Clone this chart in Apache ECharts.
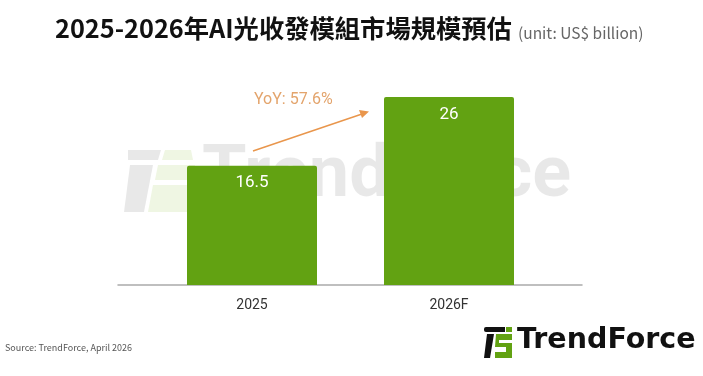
<!DOCTYPE html>
<html>
<head>
<meta charset="utf-8">
<script src="https://cdn.jsdelivr.net/npm/echarts@6/dist/echarts.min.js"></script>
<style>
  html, body { margin: 0; padding: 0; background: #fff; }
  #chart { width: 703px; height: 376px; }
</style>
</head>
<body>
<div id="chart"></div>
<script>
// 数据
const years = ['2025', '2026F'];
const marketSize = [16.5, 26];
const yoyText = 'YoY: 57.6%';

const GREEN = '#62a212';
const ORANGE = '#e9964c';

const chart = echarts.init(document.getElementById('chart'));

const option = {
    animation: false,
    title: [
        {
            text: '2025-2026年AI光收發模組市場規模預估',
            left: 55, top: 16, padding: 0,
            textStyle: { fontFamily: 'Noto Sans CJK TC', fontSize: 25.3, fontWeight: 'bold', color: '#111' }
        },
        {
            text: '(unit: US$ billion)',
            left: 518, top: 25, padding: 0,
            textStyle: { fontFamily: 'Noto Sans CJK TC', fontSize: 15.5, fontWeight: 'normal', color: '#666' }
        },
        {
            text: 'Source: TrendForce, April 2026',
            left: 5, top: 343, padding: 0,
            textStyle: { fontFamily: 'Noto Sans CJK TC', fontSize: 9, fontWeight: 'normal', color: '#555' }
        }
    ],
    grid: [
        { left: 153.5, right: 155.5, top: 68, bottom: 91 },
        { left: 118, right: 121, top: 68, bottom: 91 }
    ],
    xAxis: [
        {
            type: 'category', gridIndex: 0, data: years,
            axisLine: { show: false },
            axisTick: { show: false },
            axisLabel: { fontFamily: 'Roboto', fontSize: 14, color: '#333', margin: 13 }
        },
        {
            type: 'category', gridIndex: 1, data: [''],
            axisLine: { show: true, lineStyle: { color: '#aaa', width: 1.5 } },
            axisTick: { show: false },
            axisLabel: { show: false }
        }
    ],
    yAxis: [
        { type: 'value', gridIndex: 0, min: 0, max: 30, show: false },
        { type: 'value', gridIndex: 1, min: 0, max: 30, show: false }
    ],
    series: [
        {
            type: 'bar',
            xAxisIndex: 0, yAxisIndex: 0,
            data: marketSize,
            barWidth: 130,
            itemStyle: { color: GREEN, borderRadius: [2, 2, 0, 0] },
            label: {
                show: true, position: 'insideTop', distance: 9,
                fontFamily: 'Roboto', fontSize: 17, color: '#fff'
            }
        }
    ],
    graphic: [
        // 背景水印 TrendForce
        {
            type: 'group', z: 100, silent: true,
            children: [
                { type: 'polygon', shape: { points: [[128, 150], [161, 150], [158, 160], [128, 160]] }, style: { fill: 'rgba(0,0,0,0.09)' } },
                { type: 'polygon', shape: { points: [[165, 150], [191, 150], [193, 160], [162, 160]] }, style: { fill: 'rgba(140,190,60,0.14)' } },
                { type: 'polygon', shape: { points: [[130, 165], [153, 165], [144, 212], [124, 212]] }, style: { fill: 'rgba(0,0,0,0.09)' } },
                { type: 'polygon', shape: { points: [[158, 165], [195, 165], [193, 180], [155, 180]] }, style: { fill: 'rgba(140,190,60,0.14)' } },
                { type: 'polygon', shape: { points: [[153, 185], [192, 185], [190, 212], [148, 212]] }, style: { fill: 'rgba(140,190,60,0.14)' } },
                {
                    type: 'text', left: 202, top: 142,
                    style: { text: 'TrendForce', font: 'bold 72px Roboto', fill: 'rgba(0,0,0,0.09)' }
                }
            ]
        },
        // YoY 箭头
        {
            type: 'line', z: 50,
            shape: { x1: 253, y1: 151, x2: 362, y2: 114 },
            style: { stroke: ORANGE, lineWidth: 1.5 }
        },
        {
            type: 'polygon', z: 50,
            shape: { points: [[369, 111.5], [359, 110], [362, 118]] },
            style: { fill: ORANGE }
        },
        {
            type: 'text', left: 254, top: 92,
            style: { text: yoyText, font: '16px Roboto', fill: '#e3a46c' }
        },
        // 右下角 logo
        {
            type: 'group',
            children: [
                { type: 'rect', shape: { x: 484, y: 327, width: 21, height: 5, r: [2, 0, 0, 2] }, style: { fill: '#111' } },
                { type: 'rect', shape: { x: 506, y: 327, width: 6, height: 5 }, style: { fill: GREEN } },
                { type: 'polygon', shape: { points: [[487, 334], [494, 334], [490, 358], [484, 358]] }, style: { fill: '#111' } },
                { type: 'polygon', shape: { points: [[496, 334], [512, 334], [512, 358], [495, 358], [495, 352], [506, 352], [506, 347], [495, 347]] }, style: { fill: GREEN } },
                { type: 'rect', shape: { x: 499, y: 340, width: 13, height: 3 }, style: { fill: '#fff' } },
                {
                    type: 'text', left: 517, top: 326,
                    style: { text: 'TrendForce', font: 'bold 28.5px "DejaVu Sans"', fill: '#111' }
                }
            ]
        }
    ]
};

chart.setOption(option);
</script>
</body>
</html>
